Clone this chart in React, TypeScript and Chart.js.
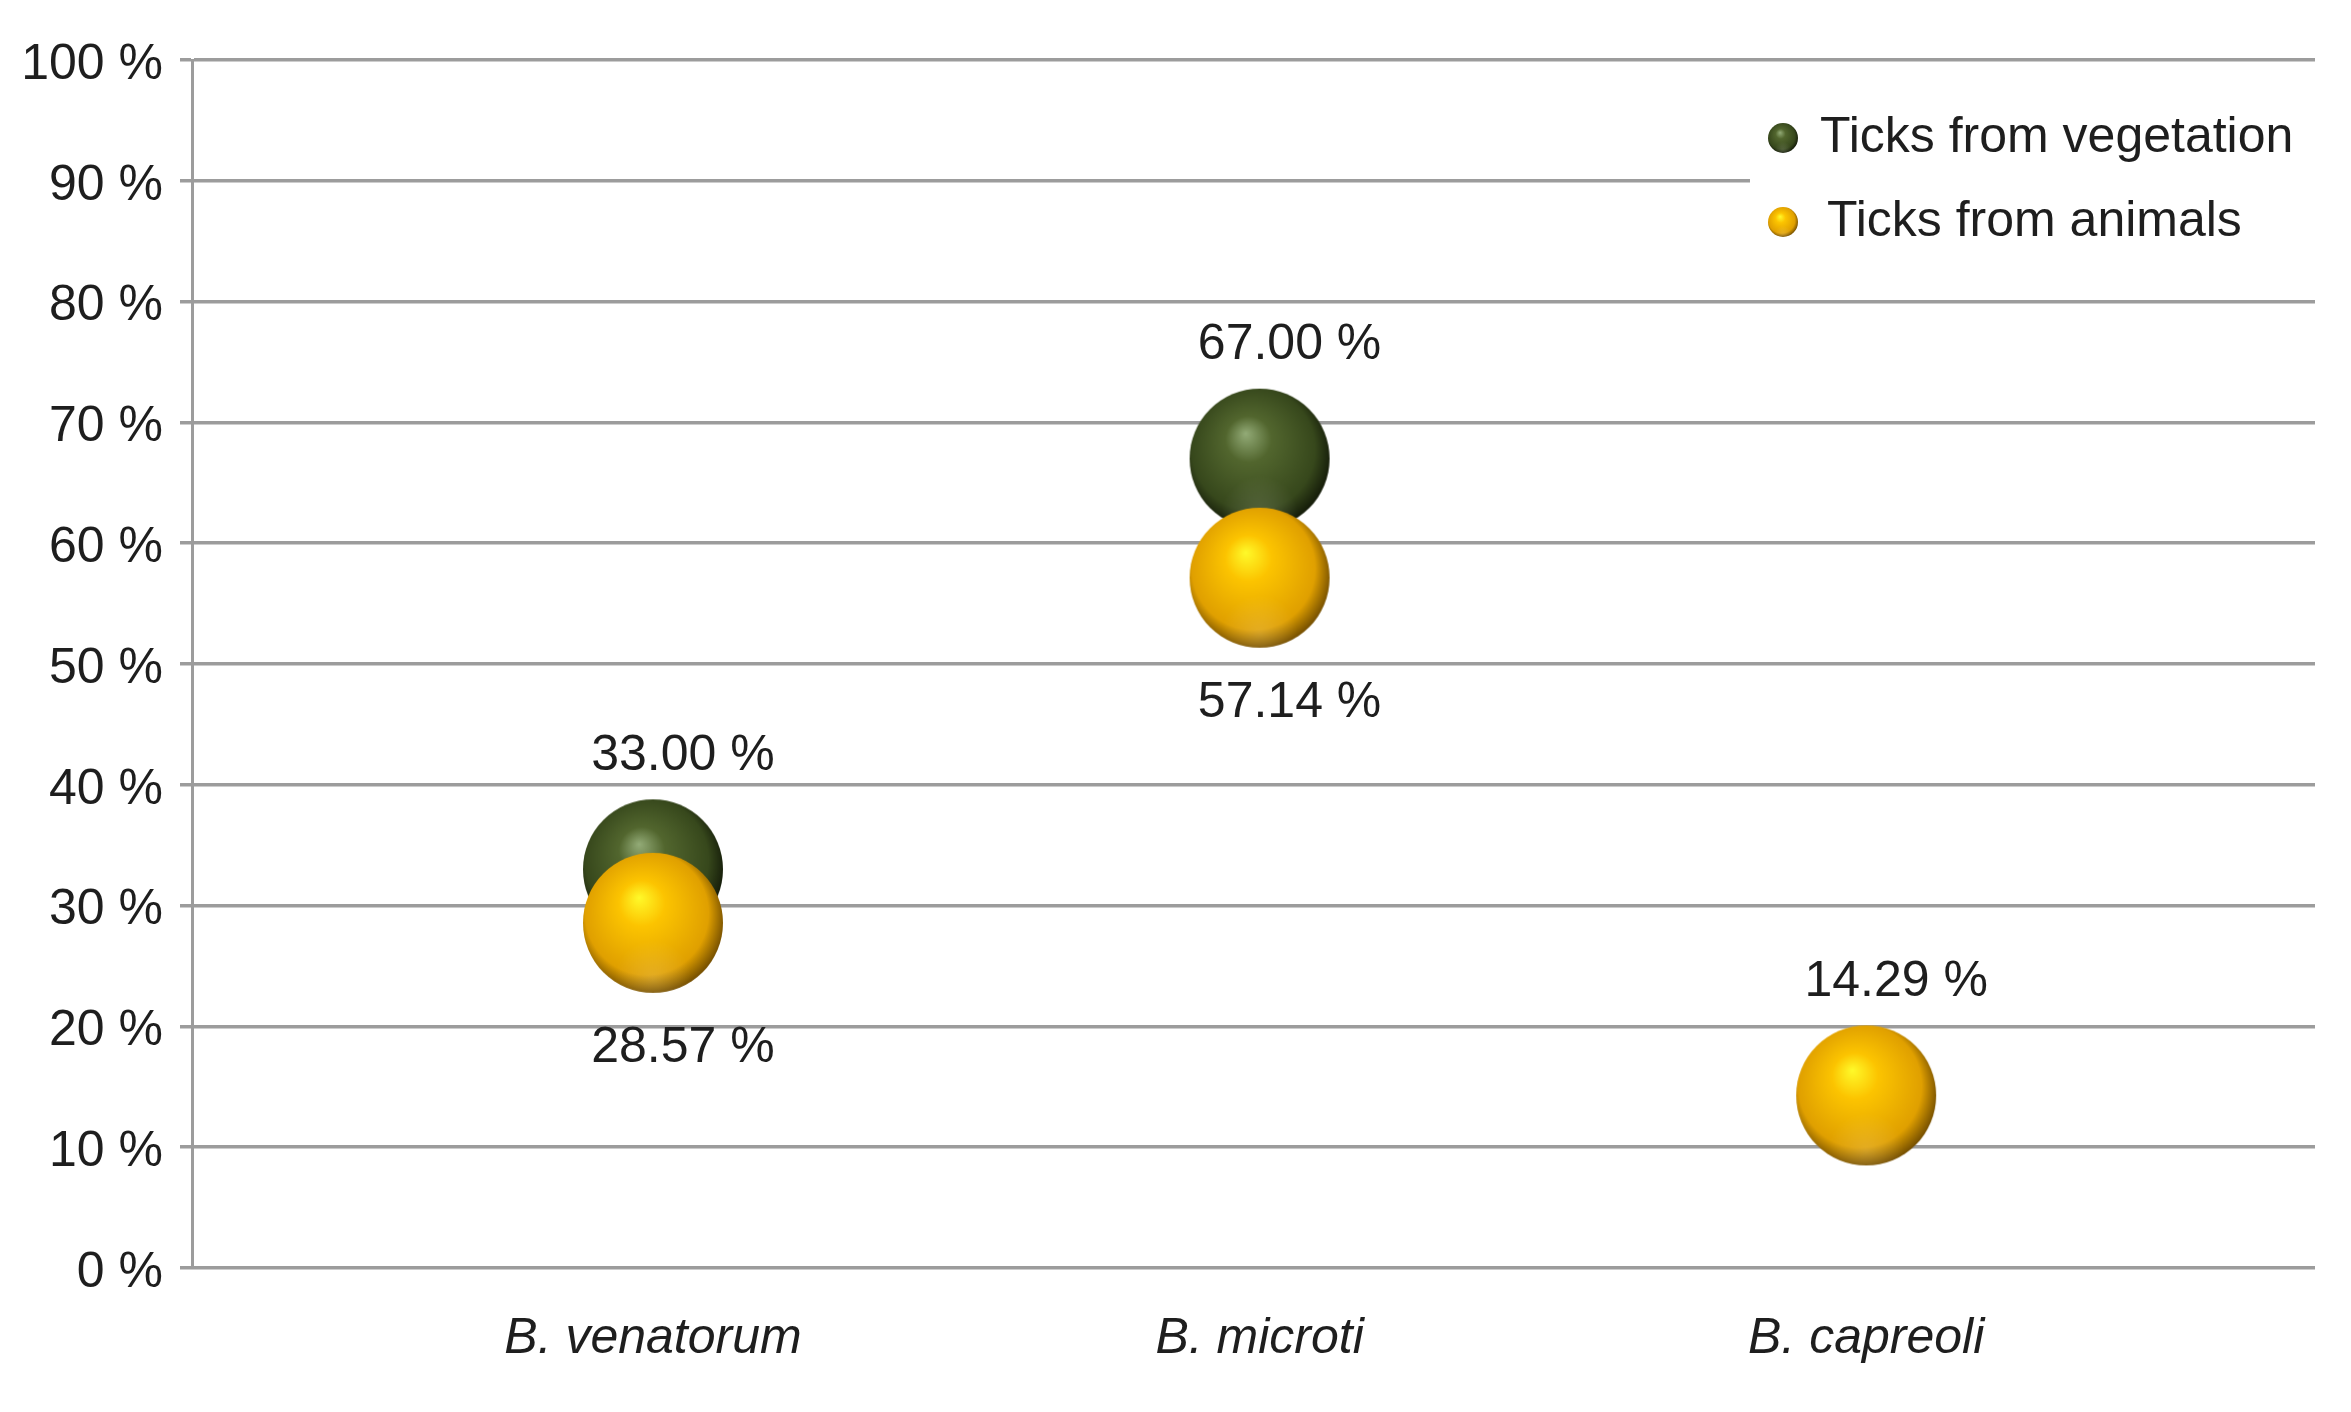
import React, { useEffect, useRef } from "react";
import { Chart, registerables } from "chart.js";

Chart.register(...registerables);

// data
const categories = ["B. venatorum", "B. microti", "B. capreoli"];
const seriesLabels = ["Ticks from vegetation", "Ticks from animals"];
const vegetationValues: (number | null)[] = [33.0, 67.0, null];
const animalValues: (number | null)[] = [28.57, 57.14, 14.29];
const yTickValues = [0, 10, 20, 30, 40, 50, 60, 70, 80, 90, 100];

const FONT = "'Liberation Sans', Arial, sans-serif";
const TEXT = "#1e1e1e";
const GRID = "#9c9c9c";

// shaded ball used as point style
function makeSphere(r: number, hi: string, mid: string, dark: string, edge: string) {
  const pad = 2;
  const c = document.createElement("canvas");
  c.width = c.height = Math.ceil(2 * r + 2 * pad);
  const ctx = c.getContext("2d")!;
  const cx = c.width / 2;
  const cy = c.height / 2;
  const g = ctx.createRadialGradient(cx - 0.2 * r, cy - 0.36 * r, 0, cx - 0.06 * r, cy - 0.08 * r, 1.1 * r);
  g.addColorStop(0, hi);
  g.addColorStop(0.3, mid);
  g.addColorStop(0.8, dark);
  g.addColorStop(1, edge);
  ctx.beginPath();
  ctx.arc(cx, cy, r, 0, Math.PI * 2);
  ctx.fillStyle = g;
  ctx.fill();
  ctx.save();
  ctx.clip();
  const g2 = ctx.createRadialGradient(cx, cy + 0.8 * r, 0, cx, cy + 0.8 * r, 0.55 * r);
  g2.addColorStop(0, "rgba(255,255,255,0.14)");
  g2.addColorStop(1, "rgba(255,255,255,0)");
  ctx.fillStyle = g2;
  ctx.fillRect(0, 0, c.width, c.height);
  ctx.restore();
  return c;
}

const toPoints = (values: (number | null)[]) =>
  values
    .map((v, i) => (v == null ? null : { x: i + 1, y: v }))
    .filter((p) => p !== null) as { x: number; y: number }[];

const App: React.FC = () => {
  const chartRef = useRef<HTMLCanvasElement>(null);
  const chartInstance = useRef<Chart | null>(null);

  useEffect(() => {
    document.body.style.margin = "0";
    if (!chartRef.current) return;
    if (chartInstance.current) chartInstance.current.destroy();

    const greenBall = makeSphere(70, "#93ab77", "#52662e", "#37481c", "#141b09");
    const yellowBall = makeSphere(70, "#fffa2a", "#fcc400", "#e0a000", "#744e00");
    const greenSmall = makeSphere(15, "#93ab77", "#52662e", "#37481c", "#141b09");
    const yellowSmall = makeSphere(15, "#fffa2a", "#fcc400", "#e0a000", "#744e00");
    const allValues = [vegetationValues, animalValues];
    const smallBalls = [greenSmall, yellowSmall];

    // value labels: green above, yellow below unless alone
    const valueLabels = {
      id: "valueLabels",
      afterDatasetsDraw(chart: Chart) {
        const ctx = chart.ctx;
        ctx.save();
        ctx.font = `50px ${FONT}`;
        ctx.fillStyle = TEXT;
        ctx.textAlign = "center";
        ctx.textBaseline = "middle";
        chart.data.datasets.forEach((ds: any, di: number) => {
          const meta = chart.getDatasetMeta(di);
          meta.data.forEach((el: any, j: number) => {
            const raw = ds.data[j];
            const idx = raw.x - 1;
            const other = allValues[1 - di][idx];
            const above = di === 0 || other == null;
            const y = above ? el.y - 113 : el.y + 125;
            ctx.fillText(raw.y.toFixed(2) + " %", el.x + 30, y);
          });
        });
        ctx.restore();
      },
    };

    const legendBox = {
      id: "legendBox",
      beforeDatasetsDraw(chart: Chart) {
        const { ctx, chartArea } = chart;
        const left = chartArea.right - 565;
        ctx.save();
        ctx.fillStyle = "#ffffff";
        ctx.fillRect(left, chartArea.top + 25, chartArea.right - left + 4, 210);
        ctx.font = `50px ${FONT}`;
        ctx.fillStyle = TEXT;
        ctx.textAlign = "left";
        ctx.textBaseline = "middle";
        seriesLabels.forEach((label, i) => {
          const y = chartArea.top + 78 + i * 84;
          const ball = smallBalls[i];
          ctx.drawImage(ball, chartArea.right - 532 - ball.width / 2, y - ball.height / 2);
          ctx.fillText(label, chartArea.right - 495 + i * 7, y);
        });
        ctx.restore();
      },
    };

    chartInstance.current = new Chart(chartRef.current, {
      type: "scatter",
      data: {
        datasets: [
          {
            label: seriesLabels[0],
            data: toPoints(vegetationValues),
            pointStyle: greenBall as any,
            pointRadius: 70,
            pointHoverRadius: 70,
            order: 1,
          },
          {
            label: seriesLabels[1],
            data: toPoints(animalValues),
            pointStyle: yellowBall as any,
            pointRadius: 70,
            pointHoverRadius: 70,
            order: 0,
          },
        ],
      },
      options: {
        responsive: true,
        maintainAspectRatio: false,
        animation: false,
        layout: { autoPadding: false, padding: { top: 60, right: 36, left: 0, bottom: 0 } },
        plugins: {
          legend: { display: false },
          tooltip: { enabled: false },
        },
        scales: {
          x: {
            type: "linear",
            min: 0.24,
            max: 3.74,
            afterBuildTicks: (scale: any) => {
              scale.ticks = categories.map((_, i) => ({ value: i + 1 }));
            },
            afterFit: (scale: any) => {
              scale.height = 144;
            },
            grid: { display: false, drawTicks: false },
            border: { display: false },
            ticks: {
              padding: 41,
              color: TEXT,
              font: { family: FONT, size: 50, style: "italic" },
              callback: (v: any) => categories[Number(v) - 1] ?? "",
            },
          },
          y: {
            min: 0,
            max: 100,
            afterBuildTicks: (scale: any) => {
              scale.ticks = yTickValues.map((v) => ({ value: v }));
            },
            afterFit: (scale: any) => {
              scale.width = 192;
            },
            grid: { color: GRID, lineWidth: 3.5, tickLength: 12 },
            border: { display: true, color: GRID, width: 3 },
            ticks: {
              padding: 17,
              labelOffset: 5,
              color: TEXT,
              font: { family: FONT, size: 50 },
              callback: (v: any) => v + " %",
            },
          },
        },
      },
      plugins: [legendBox, valueLabels],
    });

    return () => {
      if (chartInstance.current) {
        chartInstance.current.destroy();
        chartInstance.current = null;
      }
    };
  }, []);

  return (
    <div style={{ width: "2351px", height: "1412px", background: "#fff" }}>
      <canvas ref={chartRef}></canvas>
    </div>
  );
};

export default App;
